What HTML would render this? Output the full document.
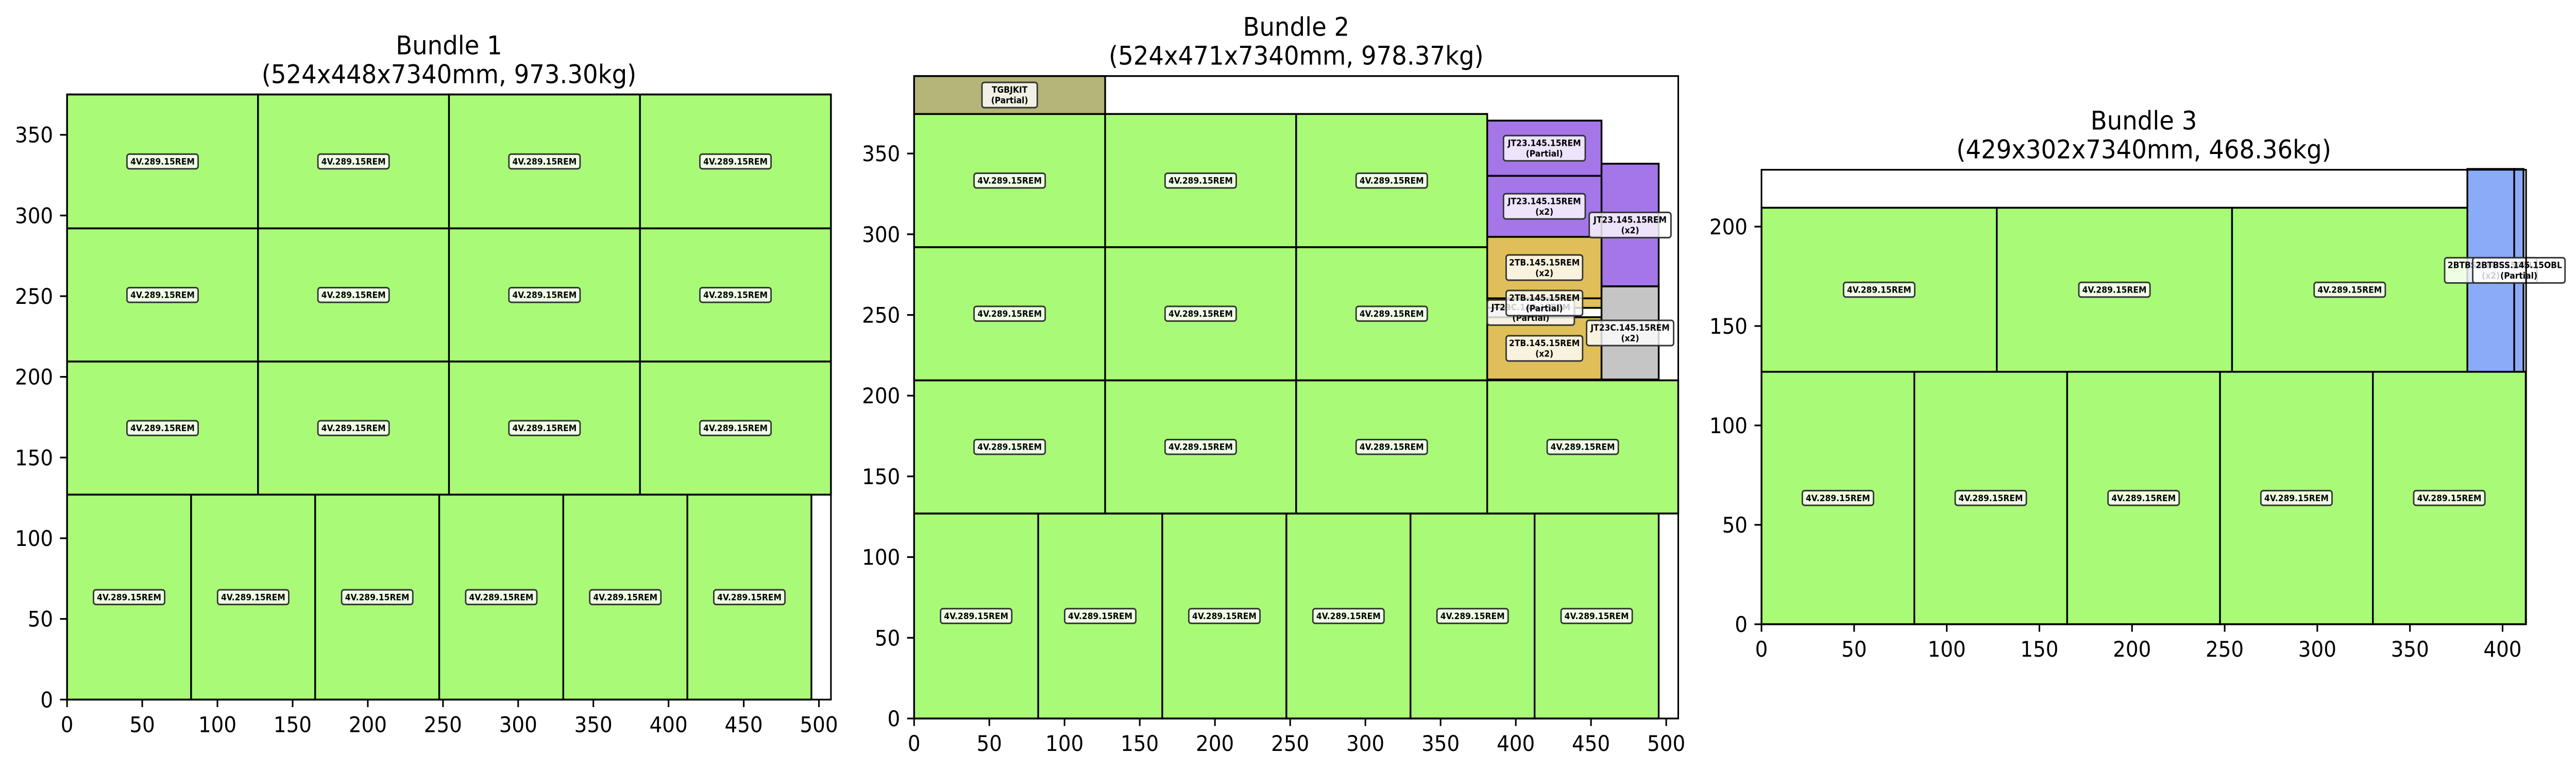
<!DOCTYPE html>
<html><head><meta charset="utf-8"><style>
html,body{margin:0;padding:0;background:#fff;width:100%;height:100%;overflow:hidden;}
svg{display:block;position:absolute;left:0;top:0;width:100vw;height:100vh;font-family:"DejaVu Sans","Liberation Sans",sans-serif;}
</style></head><body>
<svg id="fig" viewBox="0 0 5367 1495" preserveAspectRatio="none" xmlns="http://www.w3.org/2000/svg"></svg>
<script>
// ---- Bundle 1 data ----
const b1X = [0,127,254,381, 0,127,254,381, 0,127,254,381, 0,82.5,165,247.5,330,412.5];
const b1Y = [292,292,292,292, 209.5,209.5,209.5,209.5, 127,127,127,127, 0,0,0,0,0,0];
const b1W = [127,127,127,127, 127,127,127,127, 127,127,127,127, 82.5,82.5,82.5,82.5,82.5,82.5];
const b1H = [83,83,83,83, 82.5,82.5,82.5,82.5, 82.5,82.5,82.5,82.5, 127,127,127,127,127,127];
const b1C = ["g","g","g","g","g","g","g","g","g","g","g","g","g","g","g","g","g","g"];
const b1L = Array(18).fill("4V.289.15REM");
const b1Xt = [0,50,100,150,200,250,300,350,400,450,500];
const b1Yt = [0,50,100,150,200,250,300,350];

// ---- Bundle 2 data ----
const b2X = [0,82.5,165,247.5,330,412.5, 0,127,254,381, 0,127,254, 0,127,254, 0, 381,381,381,381,381,381, 457,457];
const b2Y = [0,0,0,0,0,0, 127,127,127,127, 209.5,209.5,209.5, 292,292,292, 374.5, 210,248.6,254.4,260.3,298.4,336.2, 267.7,210];
const b2W = [82.5,82.5,82.5,82.5,82.5,82.5, 127,127,127,127, 127,127,127, 127,127,127, 127, 76,58,76,76,76,76, 38,38];
const b2H = [127,127,127,127,127,127, 82.5,82.5,82.5,82.5, 82.5,82.5,82.5, 82.5,82.5,82.5, 23.5, 38.6,5.8,5.9,38.1,37.8,34.2, 76,57.7];
const b2C = ["g","g","g","g","g","g","g","g","g","g","g","g","g","g","g","g","o","y","s","y","y","p","p","p","s"];
const b2L = ["4V.289.15REM","4V.289.15REM","4V.289.15REM","4V.289.15REM","4V.289.15REM","4V.289.15REM",
  "4V.289.15REM","4V.289.15REM","4V.289.15REM","4V.289.15REM","4V.289.15REM","4V.289.15REM","4V.289.15REM",
  "4V.289.15REM","4V.289.15REM","4V.289.15REM","TGBJKIT|(Partial)",
  "2TB.145.15REM|(x2)","JT23C.145.15REM|(Partial)","2TB.145.15REM|(Partial)","2TB.145.15REM|(x2)",
  "JT23.145.15REM|(x2)","JT23.145.15REM|(Partial)","JT23.145.15REM|(x2)","JT23C.145.15REM|(x2)"];
const b2Xt = [0,50,100,150,200,250,300,350,400,450,500];
const b2Yt = [0,50,100,150,200,250,300,350];

// ---- Bundle 3 data ----
const b3X = [0,82.5,165,247.5,330, 0,127,254, 381,406.3];
const b3Y = [0,0,0,0,0, 127,127,127, 127,127];
const b3W = [82.5,82.5,82.5,82.5,82.5, 127,127,127, 25.3,5];
const b3H = [127,127,127,127,127, 82.5,82.5,82.5, 102,102];
const b3C = ["g","g","g","g","g","g","g","g","b","b"];
const b3L = ["4V.289.15REM","4V.289.15REM","4V.289.15REM","4V.289.15REM","4V.289.15REM",
  "4V.289.15REM","4V.289.15REM","4V.289.15REM","2BTBSS.145.15OBL|(x2)","2BTBSS.145.15OBL|(Partial)"];
const b3Xt = [0,50,100,150,200,250,300,350,400];
const b3Yt = [0,50,100,150,200];

const COLORS = {g:"#a9fa77", o:"#b5b479", y:"#e0bf5a", s:"#c4c5c4", p:"#a476e8", b:"#8aabf8"};
const NS = "http://www.w3.org/2000/svg";
const fig = document.getElementById('fig');
function mk(tag, attrs, parent){ const e=document.createElementNS(NS,tag); for(const k in attrs) e.setAttribute(k,attrs[k]); (parent||fig).appendChild(e); return e; }

function panel(id, cfg, X, Y, W, H, C, L, xt, yt, t1, t2){
  const g = mk('g',{});
  
  
  const k = cfg.k;
  const sx = u => cfg.x0 + u*k;
  const sy = v => cfg.y0 - v*k;
  const right = sx(cfg.xmax), top = sy(cfg.ymax);
  const boxG = mk('g',{},g);
  for(let i=0;i<X.length;i++){
    const r = mk('rect',{x:sx(X[i]), y:sy(Y[i]+H[i]), width:W[i]*k, height:H[i]*k, fill:COLORS[C[i]], stroke:"#000", "stroke-width":3.6}, boxG);
    
    
  }
  for(let i=0;i<X.length;i++){
    const lines = L[i].split('|');
    const cx = sx(X[i]+W[i]/2), cy = sy(Y[i]+H[i]/2);
    const lg = mk('g',{},g);
    
    
    const fs = 16.7, lh = 20.5;
    const wMax = Math.max(...lines.map(s=>s.length))*fs*0.66;
    const h = lines.length*lh + 8;
    mk('rect',{x:cx-wMax/2-8, y:cy-h/2, width:wMax+16, height:h, rx:5, fill:"rgba(255,255,255,0.8)", stroke:"#333", "stroke-width":3}, lg);
    lines.forEach((s,j)=>{
      const t = mk('text',{x:cx, y:cy-(lines.length-1)*lh/2 + j*lh + 6, "text-anchor":"middle", "font-size":fs, "font-weight":"bold", fill:"#000"}, lg);
      t.textContent = s;
    });
  }
  const sp = mk('rect',{x:sx(0), y:top, width:right-sx(0), height:sy(0)-top, fill:"none", stroke:"#000", "stroke-width":3.3}, g);
  
  
  xt.forEach(v=>{
    mk('line',{x1:sx(v), x2:sx(v), y1:sy(0), y2:sy(0)+14.6, stroke:"#000","stroke-width":3.3}, g);
    const t = mk('text',{x:sx(v), y:sy(0)+63, "text-anchor":"middle", "font-size":41.7, fill:"#000"}, g);
    
    
    t.textContent = v;
  });
  yt.forEach(v=>{
    mk('line',{x1:sx(0)-14.6, x2:sx(0), y1:sy(v), y2:sy(v), stroke:"#000","stroke-width":3.3}, g);
    const t = mk('text',{x:sx(0)-29, y:sy(v)+15, "text-anchor":"end", "font-size":41.7, fill:"#000"}, g);
    
    
    t.textContent = v;
  });
  const cxT = (sx(0)+right)/2;
  const ta = mk('text',{x:cxT, y:top-78, "text-anchor":"middle", "font-size":50, fill:"#000"}, g);
  
  
  ta.textContent = t1;
  const tb = mk('text',{x:cxT, y:top-22, "text-anchor":"middle", "font-size":50, fill:"#000"}, g);
  
  
  tb.textContent = t2;
}

panel('bundle-1', {x0:139.7, y0:1358.3, k:3.133, xmax:508, ymax:375}, b1X,b1Y,b1W,b1H,b1C,b1L,b1Xt,b1Yt,
  "Bundle 1","(524x448x7340mm, 973.30kg)");
panel('bundle-2', {x0:1904.5, y0:1395, k:3.134, xmax:508, ymax:398}, b2X,b2Y,b2W,b2H,b2C,b2L,b2Xt,b2Yt,
  "Bundle 2","(524x471x7340mm, 978.37kg)");
panel('bundle-3', {x0:3670, y0:1212, k:3.86, xmax:412.7, ymax:228.6}, b3X,b3Y,b3W,b3H,b3C,b3L,b3Xt,b3Yt,
  "Bundle 3","(429x302x7340mm, 468.36kg)");
</script>
</body></html>
